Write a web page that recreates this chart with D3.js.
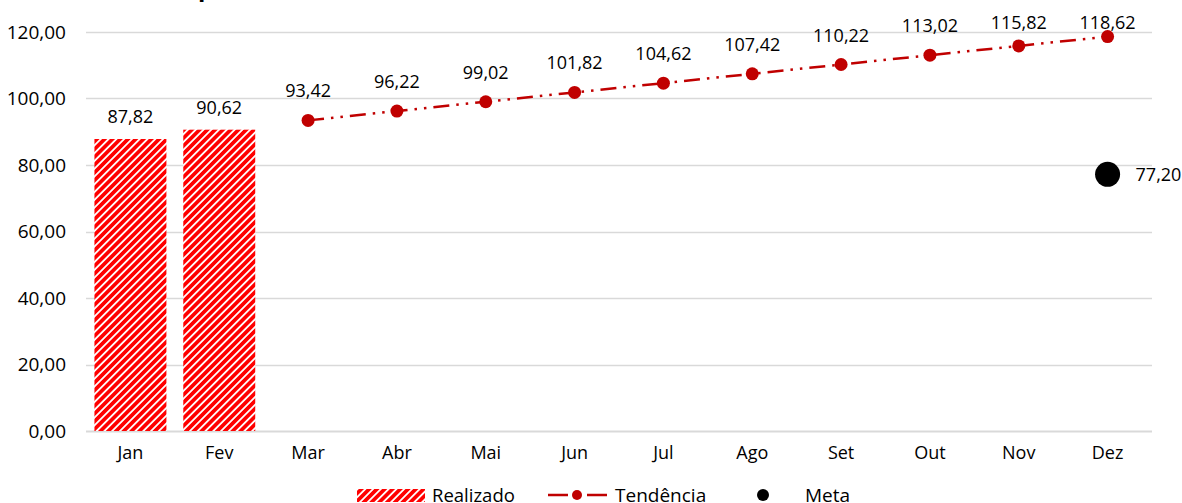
<!DOCTYPE html>
<html>
<head>
<meta charset="utf-8">
<script src="https://cdnjs.cloudflare.com/ajax/libs/d3/7.8.5/d3.min.js"></script>
<style>
  body { margin: 0; background: #fff; }
  svg { display: block; font-family: "Open Sans", sans-serif; }
</style>
</head>
<body>
<div id="chart"></div>
<script>
// dados
var meses = ["Jan", "Fev", "Mar", "Abr", "Mai", "Jun", "Jul", "Ago", "Set", "Out", "Nov", "Dez"];
var realizado = [87.82, 90.62, null, null, null, null, null, null, null, null, null, null];
var tendencia = [null, null, 93.42, 96.22, 99.02, 101.82, 104.62, 107.42, 110.22, 113.02, 115.82, 118.62];
var meta = [null, null, null, null, null, null, null, null, null, null, null, 77.20];
var yTicks = [0, 20, 40, 60, 80, 100, 120];
var titulo = "Desempenho Acumulado do Indicador de Eficiência Mensal (%)";

var width = 1182;
var height = 503;
var vermelho = "#C00000";
var fs = 18;

var fmt = function(v) { return v.toFixed(2).replace(".", ","); };

var svg = d3.select("#chart")
            .append("svg")
            .attr("width", width)
            .attr("height", height);

// padrão listrado das barras
var defs = svg.append("defs");
var pat = defs.append("pattern")
              .attr("id", "listras")
              .attr("patternUnits", "userSpaceOnUse")
              .attr("width", 5.5)
              .attr("height", 5.5)
              .attr("patternTransform", "rotate(45)");
pat.append("rect").attr("width", 5.5).attr("height", 5.5).attr("fill", "#fff");
pat.append("rect").attr("width", 3.7).attr("height", 5.5).attr("fill", "#ff0000");

var x = d3.scaleBand()
          .domain(meses)
          .range([86, 1152])
          .paddingInner(0.19)
          .paddingOuter(0.095);

var y = d3.scaleLinear()
          .domain([0, 120])
          .range([431, 32]);

// título (cortado no topo)
var t = svg.append("text")
           .attr("y", -4)
           .attr("font-size", 24)
           .attr("font-weight", "bold")
           .attr("fill", "#000")
           .text(titulo);
var off = t.node().getSubStringLength(0, 5);
t.attr("x", 198 - off);

// grade
svg.append("g")
   .selectAll("line")
   .data(yTicks)
   .join("line")
   .attr("x1", 86)
   .attr("x2", 1152)
   .attr("y1", function(d) { return Math.round(y(d)) + 0.5; })
   .attr("y2", function(d) { return Math.round(y(d)) + 0.5; })
   .attr("stroke", "#d9d9d9")
   .attr("stroke-width", function(d) { return d === 0 ? 2 : 1.3; });

// eixo y
var yAxis = svg.append("g")
               .attr("transform", "translate(66,0)")
               .call(d3.axisLeft(y).tickValues(yTicks).tickFormat(fmt).tickSize(0).tickPadding(0));
yAxis.select(".domain").remove();
yAxis.selectAll("text")
     .attr("font-family", "Open Sans, sans-serif")
     .attr("font-size", 19)
     .attr("fill", "#000");

// eixo x
var xAxis = svg.append("g")
               .attr("transform", "translate(0,431)")
               .call(d3.axisBottom(x).tickSize(0).tickPadding(15));
xAxis.select(".domain").remove();
xAxis.selectAll("text")
     .attr("font-family", "Open Sans, sans-serif")
     .attr("font-size", fs)
     .attr("fill", "#000");

// barras realizado
var barras = meses.map(function(m, i) { return { mes: m, v: realizado[i] }; })
                  .filter(function(d) { return d.v != null; });

svg.append("g")
   .selectAll("rect")
   .data(barras)
   .join("rect")
   .attr("x", function(d) { return x(d.mes); })
   .attr("width", x.bandwidth())
   .attr("y", function(d) { return y(d.v); })
   .attr("height", function(d) { return y(0) - y(d.v); })
   .attr("fill", "url(#listras)");

svg.append("g")
   .selectAll("text")
   .data(barras)
   .join("text")
   .attr("x", function(d) { return x(d.mes) + x.bandwidth() / 2; })
   .attr("y", function(d) { return y(d.v) - 16; })
   .attr("text-anchor", "middle")
   .attr("font-size", fs)
   .text(function(d) { return fmt(d.v); });

// linha de tendência
var pts = meses.map(function(m, i) { return { mes: m, v: tendencia[i] }; })
               .filter(function(d) { return d.v != null; });
var cx = function(d) { return x(d.mes) + x.bandwidth() / 2; };

svg.append("path")
   .datum(pts)
   .attr("d", d3.line().x(cx).y(function(d) { return y(d.v); }))
   .attr("fill", "none")
   .attr("stroke", vermelho)
   .attr("stroke-width", 2.5)
   .attr("stroke-dasharray", "16,7,2.5,7,2.5,7");

svg.append("g")
   .selectAll("circle")
   .data(pts)
   .join("circle")
   .attr("cx", cx)
   .attr("cy", function(d) { return y(d.v); })
   .attr("r", 6.5)
   .attr("fill", vermelho);

svg.append("g")
   .selectAll("text")
   .data(pts)
   .join("text")
   .attr("x", cx)
   .attr("y", function(d) { return Math.max(y(d.v) - 23, 29); })
   .attr("text-anchor", "middle")
   .attr("font-size", fs)
   .text(function(d) { return fmt(d.v); });

// meta
var metaPts = meses.map(function(m, i) { return { mes: m, v: meta[i] }; })
                   .filter(function(d) { return d.v != null; });

svg.append("g")
   .selectAll("circle")
   .data(metaPts)
   .join("circle")
   .attr("cx", cx)
   .attr("cy", function(d) { return y(d.v); })
   .attr("r", 12.5)
   .attr("fill", "#000");

svg.append("g")
   .selectAll("text")
   .data(metaPts)
   .join("text")
   .attr("x", function(d) { return cx(d) + 28; })
   .attr("y", function(d) { return y(d.v) + 7; })
   .attr("font-size", fs)
   .text(function(d) { return fmt(d.v); });

// legenda
var leg = svg.append("g");
leg.append("rect")
   .attr("x", 357).attr("y", 489).attr("width", 68).attr("height", 13)
   .attr("fill", "url(#listras)");
leg.append("text").attr("x", 432).attr("y", 502).attr("font-size", 18.5).text("Realizado");

leg.append("line")
   .attr("x1", 548).attr("x2", 607).attr("y1", 495).attr("y2", 495)
   .attr("stroke", vermelho).attr("stroke-width", 2.5)
   .attr("stroke-dasharray", "20,19,20");
leg.append("circle").attr("cx", 577).attr("cy", 495).attr("r", 5).attr("fill", vermelho);
leg.append("text").attr("x", 615).attr("y", 502).attr("font-size", 19).text("Tendência");

leg.append("circle").attr("cx", 763).attr("cy", 495).attr("r", 6).attr("fill", "#000");
leg.append("text").attr("x", 805).attr("y", 502).attr("font-size", 19).text("Meta");
</script>
</body>
</html>
